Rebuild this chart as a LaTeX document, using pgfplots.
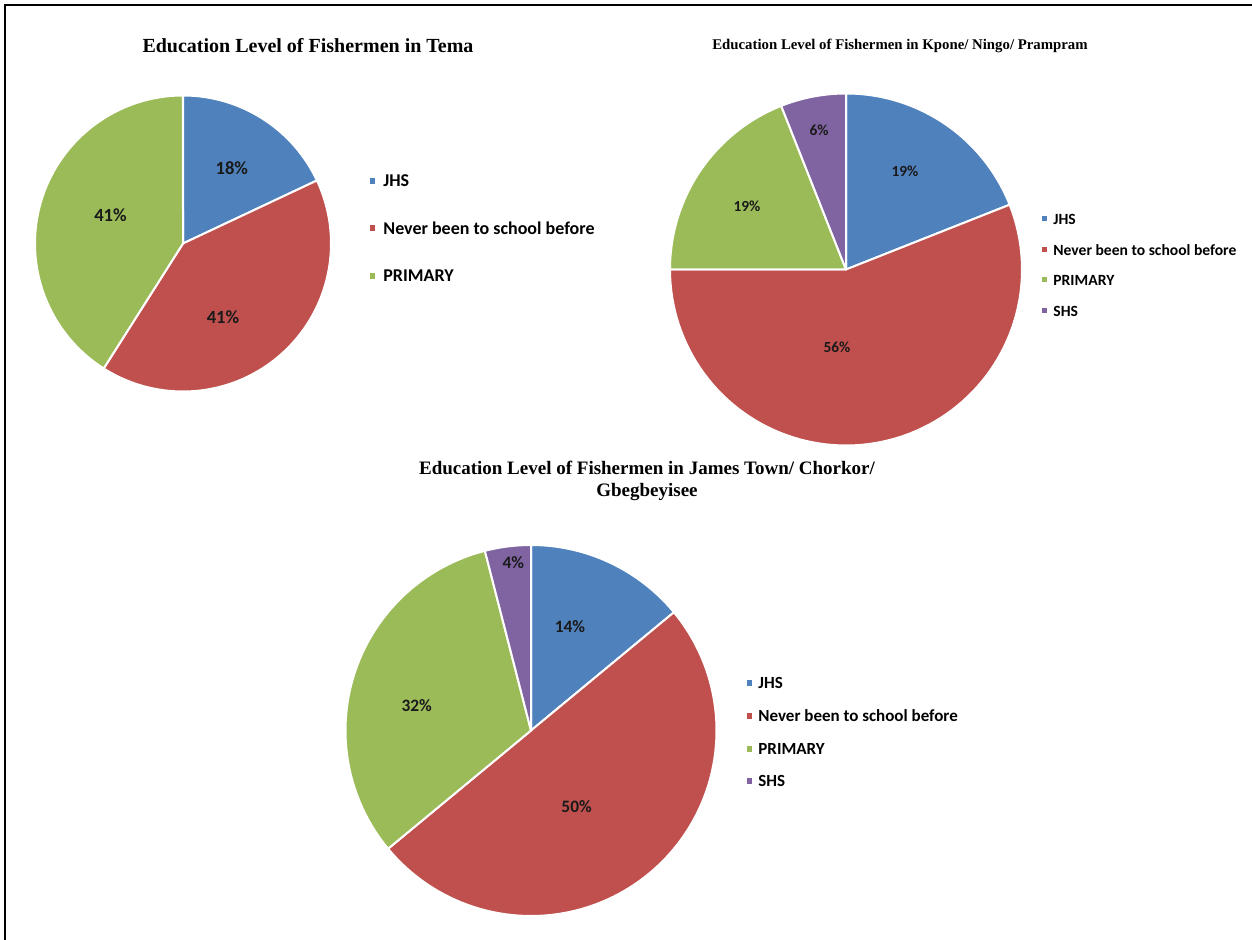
\documentclass[border=0pt]{standalone}
\usepackage{pgfplots}
\usepackage{pgfplotstable}
\pgfplotsset{compat=1.18}
\usepackage{fontspec}
\setmainfont{Liberation Serif}
\newfontfamily\carlito{Carlito}
\definecolor{pie0}{HTML}{4F81BD}
\definecolor{pie1}{HTML}{C0504D}
\definecolor{pie2}{HTML}{9BBB59}
\definecolor{pie3}{HTML}{8064A2}
\definecolor{lbl}{HTML}{1A1A1A}

% value = percent; dx, dy = label offset from centre (fraction of radius, dy downwards)
\pgfplotstableread{
label value dx dy
JHS 18 0.33 -0.51
Never 41 0.27 0.50
PRIMARY 41 -0.49 -0.19
}\tema
\pgfplotstableread{
label value dx dy
JHS 19 0.335 -0.556
Never 56 -0.051 0.44
PRIMARY 19 -0.5625 -0.36
SHS 6 -0.153 -0.793
}\kpone
\pgfplotstableread{
label value dx dy
JHS 14 0.21 -0.558
Never 50 0.246 0.411
PRIMARY 32 -0.616 -0.137
SHS 4 -0.095 -0.906
}\james

\tikzset{
  lblA/.style={font=\carlito\bfseries\fontsize{9.3}{10}\selectfont, text=lbl},
  lblB/.style={font=\carlito\bfseries\fontsize{7.7}{9}\selectfont, text=lbl},
  lblC/.style={font=\carlito\bfseries\fontsize{8.7}{10}\selectfont, text=lbl},
  legA/.style={anchor=west, inner sep=0pt, font=\carlito\bfseries\fontsize{9}{10}\selectfont},
  legB/.style={anchor=west, inner sep=0pt, font=\carlito\bfseries\fontsize{7.8}{9}\selectfont},
  legC/.style={anchor=west, inner sep=0pt, font=\carlito\bfseries\fontsize{8.5}{10}\selectfont},
}

% #1 cx, #2 cy, #3 r (pixel units), #4 table, #5 label style
\newcommand\drawpie[5]{%
  \def\cum{0}%
  \pgfplotstablegetrowsof{#4}%
  \pgfmathtruncatemacro\last{\pgfplotsretval-1}%
  \pgfplotsforeachungrouped \i in {0,...,\last}{%
    \pgfplotstablegetelem{\i}{value}\of{#4}\let\v\pgfplotsretval
    \pgfplotstablegetelem{\i}{dx}\of{#4}\let\dxx\pgfplotsretval
    \pgfplotstablegetelem{\i}{dy}\of{#4}\let\dyy\pgfplotsretval
    \pgfmathsetmacro\a{\cum}%
    \pgfmathsetmacro\b{\cum+\v}%
    \pgfmathsetmacro\lx{#1+\dxx*#3}%
    \pgfmathsetmacro\ly{#2+\dyy*#3}%
    \edef\temp{%
      \noexpand\addplot[fill=pie\i, draw=white, line width=1pt, line join=round, domain=\a:\b, samples=90]
        ({#1+#3*sin(3.6*x)},{#2-#3*cos(3.6*x)}) -- (axis cs:#1,#2) -- cycle;
      \noexpand\node[#5] at (axis cs:\lx,\ly) {\v\noexpand\%};
    }\temp
    \let\cum\b
  }%
}
% #1 x of square, #2 y, #3 colour, #4 square size, #5 text x, #6 style, #7 text
\newcommand\legitem[7]{%
  \node[fill=#3, minimum size=#4, inner sep=0pt] at (axis cs:#1,#2) {};
  \node[#6] at (axis cs:#5,#2) {#7};
}

\begin{document}
\begin{tikzpicture}
\begin{axis}[
  width=626pt, height=470pt, scale only axis,
  xmin=0, xmax=1252, ymin=0, ymax=940, y dir=reverse,
  hide axis, clip=false,
]
\drawpie{183}{243.5}{148}{\tema}{lblA}
\drawpie{846}{269.5}{176}{\kpone}{lblB}
\drawpie{531}{730.5}{185.5}{\james}{lblC}

% titles
\node[font=\bfseries\fontsize{10}{12}\selectfont] at (axis cs:308,46) {Education Level of Fishermen in Tema};
\node[font=\bfseries\fontsize{7.4}{9}\selectfont] at (axis cs:900,46) {Education Level of Fishermen in Kpone/ Ningo/ Prampram};
\node[font=\bfseries\fontsize{9.5}{11.2}\selectfont, align=center] at (axis cs:647,481) {Education Level of Fishermen in James Town/ Chorkor/\\Gbegbeyisee};

% legends
\legitem{372.5}{181}{pie0}{2.8pt}{383}{legA}{JHS}
\legitem{372.5}{228}{pie1}{2.8pt}{383}{legA}{Never been to school before}
\legitem{372.5}{276}{pie2}{2.8pt}{383}{legA}{PRIMARY}
\legitem{1044.5}{219}{pie0}{2.5pt}{1053}{legB}{JHS}
\legitem{1044.5}{250}{pie1}{2.5pt}{1053}{legB}{Never been to school before}
\legitem{1044.5}{280}{pie2}{2.5pt}{1053}{legB}{PRIMARY}
\legitem{1044.5}{311}{pie3}{2.5pt}{1053}{legB}{SHS}
\legitem{749.5}{683}{pie0}{2.7pt}{758}{legC}{JHS}
\legitem{749.5}{716}{pie1}{2.7pt}{758}{legC}{Never been to school before}
\legitem{749.5}{749}{pie2}{2.7pt}{758}{legC}{PRIMARY}
\legitem{749.5}{781}{pie3}{2.7pt}{758}{legC}{SHS}

% frame (left and top)
\draw[line width=1.1pt] (axis cs:5,940) -- (axis cs:5,5) -- (axis cs:1252,5);
\end{axis}
\pgfresetboundingbox
\path (current axis.south west) rectangle (current axis.north east);
\end{tikzpicture}
\end{document}
